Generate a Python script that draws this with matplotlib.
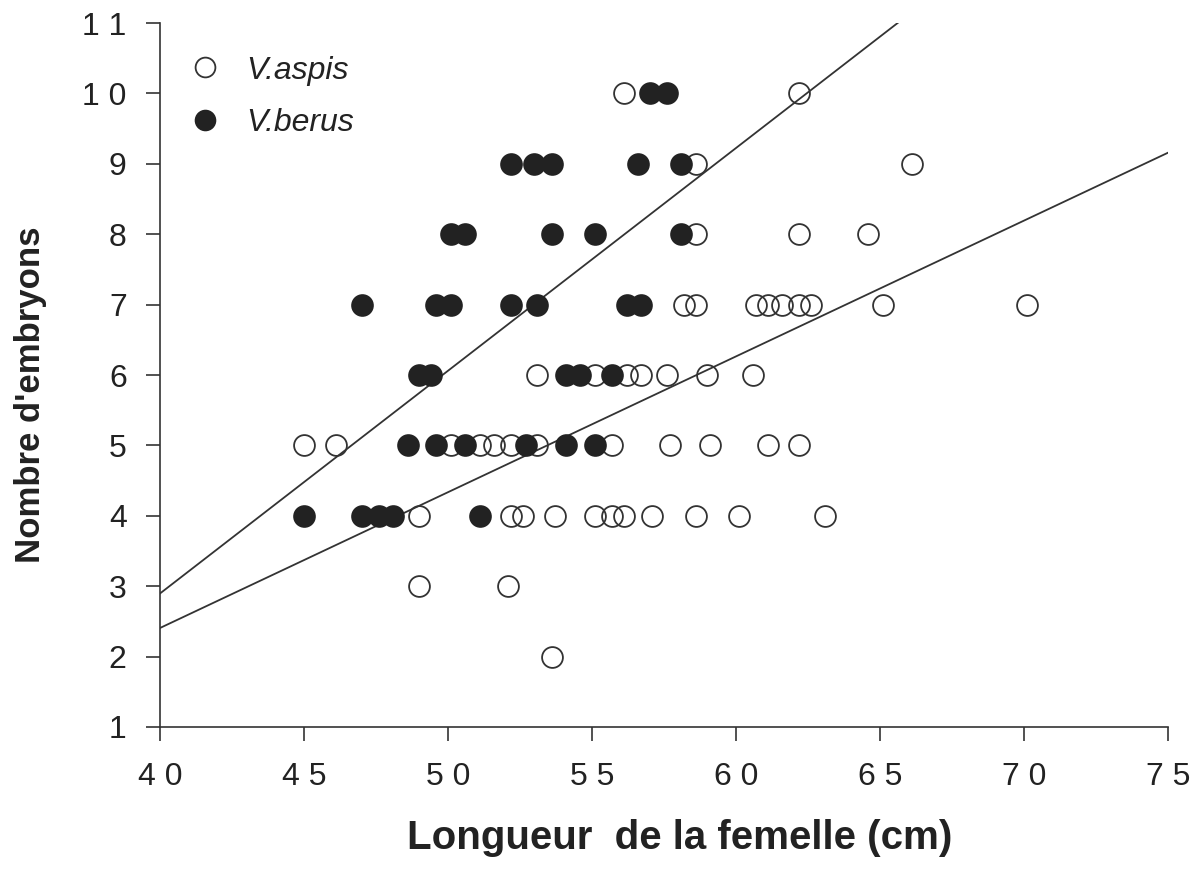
import numpy as np
import matplotlib
matplotlib.use("Agg")
from matplotlib import pyplot as plt

plt.rcParams['font.family'] = ['Liberation Sans', 'DejaVu Sans']

# V. aspis (open circles): female length (cm) and number of embryos
aspis_len = [56.1, 62.2,
             58.6, 66.1,
             58.6, 62.2, 64.6,
             58.2, 58.6, 60.7, 61.1, 61.6, 62.2, 62.6, 65.1, 70.1,
             53.1, 55.1, 56.2, 56.7, 57.6, 59.0, 60.6,
             45.0, 46.1, 50.1, 51.1, 51.6, 52.2, 53.1, 55.7, 57.7, 59.1, 61.1, 62.2,
             49.0, 52.2, 52.6, 53.7, 55.1, 55.7, 56.1, 57.1, 58.6, 60.1, 63.1,
             49.0, 52.1,
             53.6]
aspis_emb = [10, 10,
             9, 9,
             8, 8, 8,
             7, 7, 7, 7, 7, 7, 7, 7, 7,
             6, 6, 6, 6, 6, 6, 6,
             5, 5, 5, 5, 5, 5, 5, 5, 5, 5, 5, 5,
             4, 4, 4, 4, 4, 4, 4, 4, 4, 4, 4,
             3, 3,
             2]

# V. berus (filled circles)
berus_len = [57.0, 57.6,
             52.2, 53.0, 53.6, 56.6, 58.1,
             50.1, 50.6, 53.6, 55.1, 58.1,
             47.0, 49.6, 50.1, 52.2, 53.1, 56.2, 56.7,
             49.0, 49.4, 54.1, 54.6, 55.7,
             48.6, 49.6, 50.6, 52.7, 54.1, 55.1,
             45.0, 47.0, 47.6, 48.1, 51.1]
berus_emb = [10, 10,
             9, 9, 9, 9, 9,
             8, 8, 8, 8, 8,
             7, 7, 7, 7, 7, 7, 7,
             6, 6, 6, 6, 6,
             5, 5, 5, 5, 5, 5,
             4, 4, 4, 4, 4]

# regression lines (slope, intercept)
berus_fit = (0.3164, -9.76)
aspis_fit = (0.1929, -5.31)

xticks = [40, 45, 50, 55, 60, 65, 70, 75]
xticklabels = ["4 0", "4 5", "5 0", "5 5", "6 0", "6 5", "7 0", "7 5"]
yticks = list(range(1, 12))
yticklabels = ["1", "2", "3", "4", "5", "6", "7", "8", "9", "1 0", "1 1"]

fig = plt.figure(figsize=(12, 8.72), dpi=100)
ax = fig.add_axes([0.1333, 0.1663, 0.84, 0.8073])

ink = '#222222'
xs = np.array([40, 75])
ax.plot(xs, berus_fit[0] * xs + berus_fit[1], color='#333333', lw=1.3, zorder=1)
ax.plot(xs, aspis_fit[0] * xs + aspis_fit[1], color='#333333', lw=1.3, zorder=1)

ax.plot(aspis_len, aspis_emb, 'o', ms=15, mfc='none', mec='#333333', mew=1.3,
        label='V.aspis', zorder=2)
ax.plot(berus_len, berus_emb, 'o', ms=15, mfc=ink, mec=ink, mew=1.3,
        label='V.berus', zorder=3)

ax.set_xlim(40, 75)
ax.set_ylim(1, 11)
ax.set_xticks(xticks)
ax.set_xticklabels(xticklabels)
ax.set_yticks(yticks)
ax.set_yticklabels(yticklabels)
ax.tick_params(direction='out', length=10, width=1.2, labelsize=23, colors='#333333',
               labelcolor=ink)
ax.tick_params(axis='x', pad=15)
ax.tick_params(axis='y', pad=14)
for s in ['top', 'right']:
    ax.spines[s].set_visible(False)
for s in ['left', 'bottom']:
    ax.spines[s].set_linewidth(1.2)
    ax.spines[s].set_color('#333333')

ax.set_xlabel("Longueur  de la femelle (cm)", fontsize=29, fontweight='bold', color=ink)
ax.set_ylabel("Nombre d'embryons", fontsize=25, fontweight='bold', color=ink)
ax.xaxis.set_label_coords(0.516, -0.13)
ax.yaxis.set_label_coords(-0.112, 0.472)

leg = ax.legend(loc='upper left', frameon=False, markerscale=0.95,
                prop={'style': 'italic', 'size': 23}, handlelength=1.0,
                handletextpad=0.8, borderaxespad=0, labelspacing=0.7,
                bbox_to_anchor=(0.016, 0.972))
for t in leg.get_texts():
    t.set_color(ink)

fig.savefig("out.png", dpi=100)
